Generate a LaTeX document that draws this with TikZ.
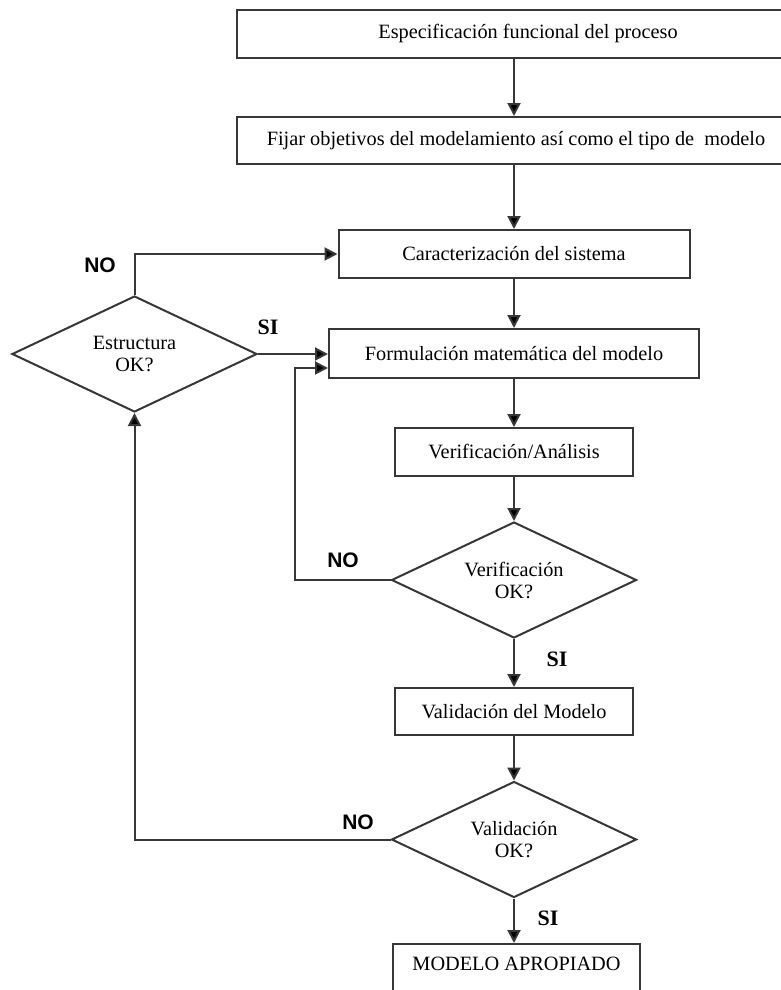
\documentclass[tikz,border=0pt]{standalone}
\usepackage{fontspec}
\setmainfont{Liberation Serif}
\newfontfamily\arialfont{Liberation Sans}
\usetikzlibrary{shapes.geometric,arrows.meta,calc}
\definecolor{ln}{RGB}{55,55,55}
\begin{document}
\begin{tikzpicture}[x=1pt,y=-1pt,
 box/.style={draw=ln,line width=2pt,rectangle,inner sep=0pt,font=\fontsize{20.3}{22}\selectfont},
 dia/.style={draw=ln,line width=2pt,diamond,aspect=2.1,inner sep=0pt,minimum width=245pt,minimum height=116pt,align=center,font=\fontsize{20.3}{22}\selectfont},
 arr/.style={draw=ln,line width=2pt,-{Triangle[width=13pt,length=13pt,fill=black]}},
 nolab/.style={font=\arialfont\bfseries\fontsize{21}{21}\selectfont},
 silab/.style={font=\bfseries\fontsize{22}{22}\selectfont}]
\useasboundingbox (0,0) rectangle (781,990);
\fill[white] (0,0) rectangle (781,990);
\clip (0,0) rectangle (781,990);

\node[box,minimum width=582pt,minimum height=48pt] (b1) at (528,34) {Especificación funcional del proceso};
\node[box,minimum width=558pt,minimum height=47pt] (b2) at (516,140.5) {Fijar objetivos del modelamiento así como el tipo de\ \ modelo};
\node[box,minimum width=351pt,minimum height=48pt] (b3) at (514,254) {Caracterización del sistema};
\node[box,minimum width=370pt,minimum height=49pt] (b4) at (514,353.5) {Formulación matemática del modelo};
\node[box,minimum width=238pt,minimum height=48pt] (b5) at (514,452) {Verificación/Análisis};
\node[dia] (d1) at (514,580) {Verificación\\OK?};
\node[box,minimum width=238pt,minimum height=47pt] (b6) at (514,711.5) {Validación del Modelo};
\node[dia] (d2) at (514,839.5) {Validación\\OK?};
\node[box,anchor=north,minimum width=247pt,text height=14pt,text depth=50pt,inner ysep=12pt] (b7) at (516.5,943) {MODELO APROPIADO};
\node[dia] (d0) at (134.5,354) {Estructura\\OK?};

\coordinate (c1) at (295,368);

\draw[arr] (b1.south -| b3.north) -- (b2.north -| b3.north);
\draw[arr] (b2.south -| b3.north) -- (b3.north);
\draw[arr] (b3.south) -- (b4.north);
\draw[arr] (b4.south) -- (b5.north);
\draw[arr] (b5.south) -- (d1.north);
\draw[arr] (d1.south) -- (b6.north);
\draw[arr] (b6.south) -- (d2.north);
\draw[arr] (d2.south) -- (d2.south |- b7.north);
\draw[arr] (d1.west) -| (c1) -- (c1 -| b4.west);
\draw[arr] (d2.west) -| (d0.south);
\draw[arr] (d0.north) |- (b3.west);
\draw[arr] (d0.east) -- (d0.east -| b4.west);

\node[nolab] (no0) at (100,265) {NO};
\node[nolab] (no1) at (343,560) {NO};
\node[nolab] (no2) at (358,822) {NO};
\node[silab] (si0) at (268,327) {SI};
\node[silab] (si1) at (557,659) {SI};
\node[silab] (si2) at (548,918) {SI};
\end{tikzpicture}
\end{document}
